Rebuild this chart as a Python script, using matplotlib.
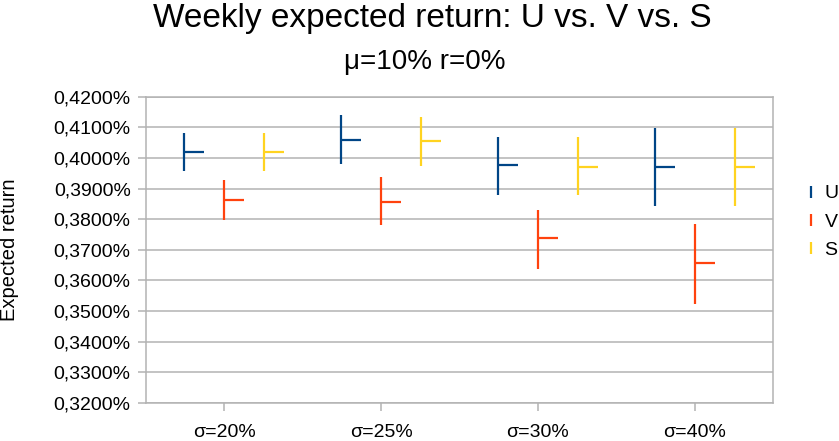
import matplotlib
matplotlib.use("Agg")
import matplotlib.pyplot as plt
from matplotlib.lines import Line2D
from matplotlib.ticker import FuncFormatter, MultipleLocator

plt.rcParams['font.family'] = ['Liberation Sans', 'DejaVu Sans']

# data (weekly expected return, in %)
categories = ['σ=20%', 'σ=25%', 'σ=30%', 'σ=40%']
series = ['U', 'V', 'S']

u_high = [0.4082, 0.4140, 0.4068, 0.4098]
u_low = [0.3956, 0.3979, 0.3879, 0.3844]
u_close = [0.4020, 0.4060, 0.3977, 0.3971]

v_high = [0.3927, 0.3937, 0.3831, 0.3783]
v_low = [0.3798, 0.3782, 0.3639, 0.3524]
v_close = [0.3863, 0.3857, 0.3738, 0.3656]

s_high = [0.4082, 0.4135, 0.4068, 0.4098]
s_low = [0.3956, 0.3974, 0.3879, 0.3844]
s_close = [0.4020, 0.4054, 0.3971, 0.3971]

colors = ['#004586', '#ff420e', '#ffd320']
offsets = [-0.255, 0.0, 0.255]
tick_len = 0.128


def comma_pct(v, pos):
    return f"{v:.4f}".replace('.', ',') + '%'


def main():
    fig = plt.figure(figsize=(8.39, 4.41), dpi=100)
    ax = fig.add_axes([0.174, 0.0862, 0.7473, 0.6946])

    data = [(u_high, u_low, u_close), (v_high, v_low, v_close), (s_high, s_low, s_close)]
    for (hi, lo, cl), col, off in zip(data, colors, offsets):
        xs = [i + off for i in range(len(categories))]
        ax.vlines(xs, lo, hi, color=col, lw=1.6, zorder=3)
        ax.hlines(cl, xs, [x + tick_len for x in xs], color=col, lw=1.6, zorder=3)

    ax.set_xlim(-0.5, len(categories) - 0.5)
    ax.set_ylim(0.32, 0.42)
    ax.set_xticks(range(len(categories)))
    ax.set_xticklabels(categories)
    ax.yaxis.set_major_locator(MultipleLocator(0.01))
    ax.yaxis.set_major_formatter(FuncFormatter(comma_pct))
    ax.grid(axis='y', color='#b3b3b3', lw=1.1, zorder=0)
    ax.set_axisbelow(True)
    for sp in ax.spines.values():
        sp.set_color('#b3b3b3')
        sp.set_linewidth(1.1)
    ax.tick_params(axis='both', colors='#b3b3b3', labelcolor='black',
                   labelsize=14, length=6, width=1.1)
    ax.tick_params(axis='y', pad=5)
    ax.tick_params(axis='x', pad=9)
    ax.set_ylabel('Expected return', fontsize=14.5)
    ax.yaxis.set_label_coords(-0.202, 0.5)

    fig.text(0.515, 1 - 19 / 441, 'Weekly expected return: U vs. V vs. S',
             ha='center', va='center', fontsize=24)
    fig.text(0.506, 1 - 62 / 441, 'μ=10% r=0%', ha='center', va='center', fontsize=20)

    handles = [Line2D([], [], color=c, marker='|', linestyle='None',
                      markersize=9, markeredgewidth=1.6) for c in colors]
    fig.legend(handles, series, loc='center left', bbox_to_anchor=(805 / 839, 0.497),
               frameon=False, fontsize=14, handlelength=0.6, handletextpad=0.4,
               borderpad=0, borderaxespad=0, labelspacing=0.55)

    fig.savefig('out.png', dpi=100)


if __name__ == "__main__":
    main()
